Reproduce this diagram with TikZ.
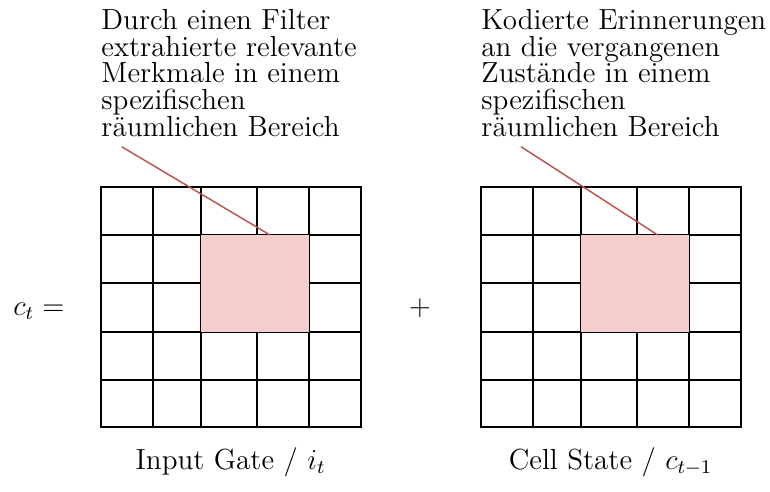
\documentclass[tikz,border=0pt]{standalone}
\usetikzlibrary{positioning}
\definecolor{linkred}{RGB}{188,82,78}
\definecolor{regionpink}{RGB}{245,205,205}
\tikzset{
  every picture/.style={x=0.4132pt,y=-0.4132pt},
  gridline/.style={draw=black,line width=0.85pt,line cap=rect},
  region/.style={fill=regionpink,draw=none,inner sep=0pt,outer sep=0pt,minimum width=108.3*0.4132pt,minimum height=96.7*0.4132pt},
  pointer/.style={draw=linkred,line width=0.6pt},
  note/.style={anchor=north west,align=left,inner sep=0pt,font=\fontsize{12}{11}\selectfont},
  caption/.style={anchor=base,inner sep=0pt,font=\fontsize{12}{14}\selectfont},
}
\begin{document}
\begin{tikzpicture}
\useasboundingbox (0,0) rectangle (770,492);

% two 5x5 grids with uneven column spacing
\foreach \dx/\nm in {0/A,380/B}{
  \begin{scope}[xshift=\dx*0.4132pt]
    \foreach \gx in {100.7,152.7,200.7,256.7,309,360.7}
      \draw[gridline] (\gx,187.3) -- (\gx,427);
    \foreach \gy in {187.3,235,283.3,331.7,380,427}
      \draw[gridline] (100.7,\gy) -- (360.7,\gy);
  \end{scope}
}

% highlighted regions
\node[region,anchor=north west] (regA) at (200.7,235) {};
\node[region,anchor=north west] (regB) at (580.7,235) {};

% annotations
\node[note] (noteA) at (101,9) {Durch einen Filter\\extrahierte relevante\\Merkmale in einem\\spezifischen\\räumlichen Bereich};
\node[note] (noteB) at (481,9) {Kodierte Erinnerungen\\an die vergangenen\\Zustände in einem\\spezifischen\\räumlichen Bereich};

\coordinate (startA) at (121.7,146.7);
\coordinate (startB) at (521,146.7);
\coordinate (endA) at (270,235);
\coordinate (endB) at (657.7,235);
\draw[pointer] (startA) -- (endA);
\draw[pointer] (startB) -- (endB);

% equation parts
\node[caption] (lhs) at (39,315) {$c_t =$};
\node[caption] (plus) at (420,315) {$+$};

% captions under the grids
\node[caption] (capA) at (230.7,469) {Input Gate / $i_t$};
\node[caption] (capB) at (610.7,469) {Cell State / $c_{t-1}$};
\end{tikzpicture}
\end{document}
